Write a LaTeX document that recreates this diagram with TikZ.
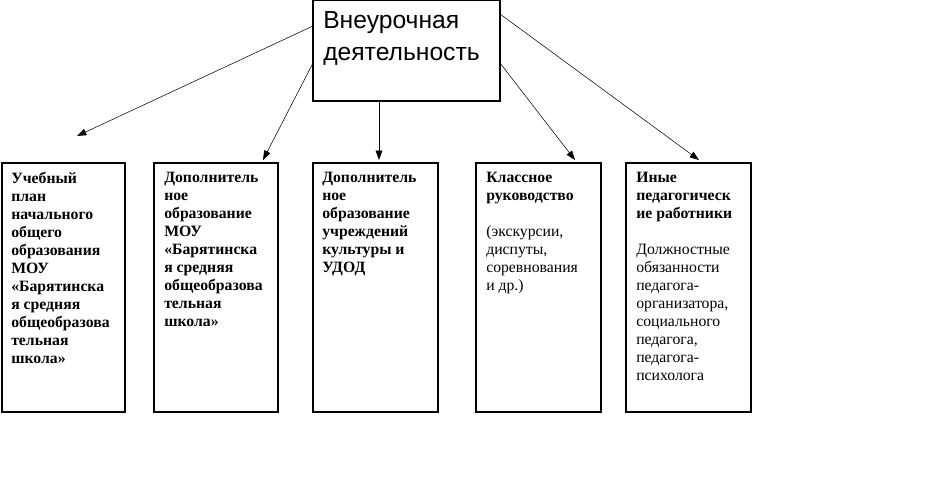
\documentclass[tikz,border=0pt]{standalone}
\usepackage{fontspec}
\setmainfont{Liberation Serif}
\newfontfamily\headfont{Liberation Sans}
\usetikzlibrary{arrows.meta}

\tikzset{
	boxtext/.style={anchor=north west, align=left, font=\fontsize{11.8}{13.5}\selectfont, inner sep=0pt},
	pfeil/.style={-{Triangle[length=7pt, width=5pt]}, thin}
}

\begin{document}
\begin{tikzpicture}[x=0.75pt, y=-0.75pt]

	\useasboundingbox (0,0) rectangle (939,479);

	% oberer Kasten
	\draw[thick] (313,0) rectangle (500,101);
	\node (top) [anchor=north west, align=left, inner sep=0pt, font=\headfont\fontsize{18.5}{24}\selectfont] at (323,11) {Внеурочная\\деятельность};
	\coordinate (tl) at (313,26);
	\coordinate (tlm) at (313,63);
	\coordinate (tb) at (379,101);
	\coordinate (trm) at (500,63);
	\coordinate (tr) at (500,14);

	% untere Kaesten
	\draw[thick] (2,163) rectangle (125,412);
	\draw[thick] (154,163) rectangle (278,412);
	\draw[thick] (313,163) rectangle (438,412);
	\draw[thick] (476,163) rectangle (601,412);
	\draw[thick] (626,163) rectangle (751,412);

	\node (plan) [boxtext] at (11,172) {\bfseries Учебный\\\bfseries план\\\bfseries начального\\\bfseries общего\\\bfseries образования\\\bfseries МОУ\\\bfseries «Барятинска\\\bfseries я средняя\\\bfseries общеобразова\\\bfseries тельная\\\bfseries школа»};
	\node (dopmou) [boxtext] at (164,172) {\bfseries Дополнитель\\\bfseries ное\\\bfseries образование\\\bfseries МОУ\\\bfseries «Барятинска\\\bfseries я средняя\\\bfseries общеобразова\\\bfseries тельная\\\bfseries школа»};
	\node (dopkult) [boxtext] at (322,172) {\bfseries Дополнитель\\\bfseries ное\\\bfseries образование\\\bfseries учреждений\\\bfseries культуры и\\\bfseries УДОД};
	\node (klass) [boxtext] at (486,172) {\bfseries Классное\\\bfseries руководство\\[13.5pt](экскурсии,\\диспуты,\\соревнования\\и др.)};
	\node (inye) [boxtext] at (636,172) {\bfseries Иные\\\bfseries педагогическ\\\bfseries ие работники\\[13.5pt]Должностные\\обязанности\\педагога-\\организатора,\\социального\\педагога,\\педагога-\\психолога};

	\coordinate (e1) at (77,136);
	\coordinate (e2) at (263,160);
	\coordinate (e3) at (379,160);
	\coordinate (e4) at (575,160);
	\coordinate (e5) at (699,160);

	\draw[pfeil] (tl) -- (e1);
	\draw[pfeil] (tlm) -- (e2);
	\draw[pfeil] (tb) -- (e3);
	\draw[pfeil] (trm) -- (e4);
	\draw[pfeil] (tr) -- (e5);

\end{tikzpicture}
\end{document}
